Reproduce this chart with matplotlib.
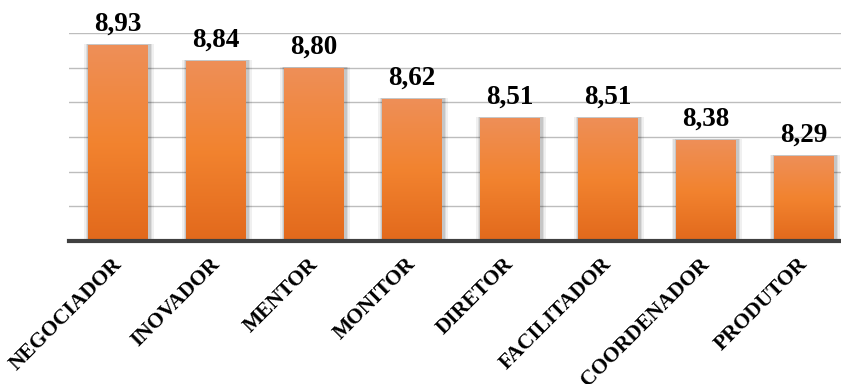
import numpy as np
import matplotlib.pyplot as plt
import matplotlib.transforms as mtransforms
from matplotlib.colors import LinearSegmentedColormap

# Média por papel gerencial
papeis = ["NEGOCIADOR", "INOVADOR", "MENTOR", "MONITOR", "DIRETOR",
          "FACILITADOR", "COORDENADOR", "PRODUTOR"]
medias = [8.93, 8.84, 8.80, 8.62, 8.51, 8.51, 8.38, 8.29]
rotulos = ["8,93", "8,84", "8,80", "8,62", "8,51", "8,51", "8,38", "8,29"]

plt.rcParams["font.family"] = ["Liberation Serif", "DejaVu Serif"]

fig = plt.figure(figsize=(8.41, 3.84), dpi=100)
ax = fig.add_axes([69 / 841, (384 - 241) / 384, (841 - 69) / 841, (241 - 33) / 384])

base = 7.8
ax.set_ylim(base, 9.0)
ax.set_xlim(-0.5, 7.38)

# degradê laranja (claro em cima, escuro embaixo)
cmap = LinearSegmentedColormap.from_list(
    "laranja", ["#e2691c", "#f2832f", "#ee8f58"])
grad = np.linspace(0, 1, 256).reshape(-1, 1)

x = np.arange(len(papeis))
largura = 0.61
barras = ax.bar(x, np.array(medias) - base, bottom=base, width=largura,
                color="none", edgecolor="none", zorder=3)

for xi, b, v, txt in zip(x, barras, medias, rotulos):
    # sombra suave
    for k, a in [(0.05, 0.06), (0.035, 0.08), (0.02, 0.10)]:
        ax.bar(xi + 0.01, v - base + 0.006, bottom=base, width=largura + 2 * k,
               color="black", alpha=a, edgecolor="none", zorder=2)
    im = ax.imshow(grad, cmap=cmap, aspect="auto", origin="lower",
                   extent=[xi - largura / 2, xi + largura / 2, base, v], zorder=3)
    im.set_clip_path(b)
    ax.annotate(txt, (xi, v), xytext=(0, 6), textcoords="offset points",
                ha="center", va="bottom", fontsize=19.5, fontweight="bold")

ax.set_yticks(np.arange(7.8, 9.01, 0.2))
ax.yaxis.grid(True, color="#bdbdbd", linewidth=1.0, zorder=0)
ax.set_axisbelow(True)
ax.tick_params(axis="y", left=False, labelleft=False)
ax.tick_params(axis="x", bottom=False, pad=6)
for s in ["top", "right", "left"]:
    ax.spines[s].set_visible(False)
ax.spines["bottom"].set_color("#404040")
ax.spines["bottom"].set_linewidth(3)
ax.spines["bottom"].set_zorder(5)

ax.set_xticks(x)
ax.set_xticklabels(papeis, rotation=45, ha="right", rotation_mode="anchor",
                   fontsize=15.5, fontweight="bold")
desloc = mtransforms.ScaledTranslation(-6 / 100, 0, fig.dpi_scale_trans)
for lbl in ax.get_xticklabels():
    lbl.set_transform(lbl.get_transform() + desloc)

fig.savefig("out.png", dpi=100)
